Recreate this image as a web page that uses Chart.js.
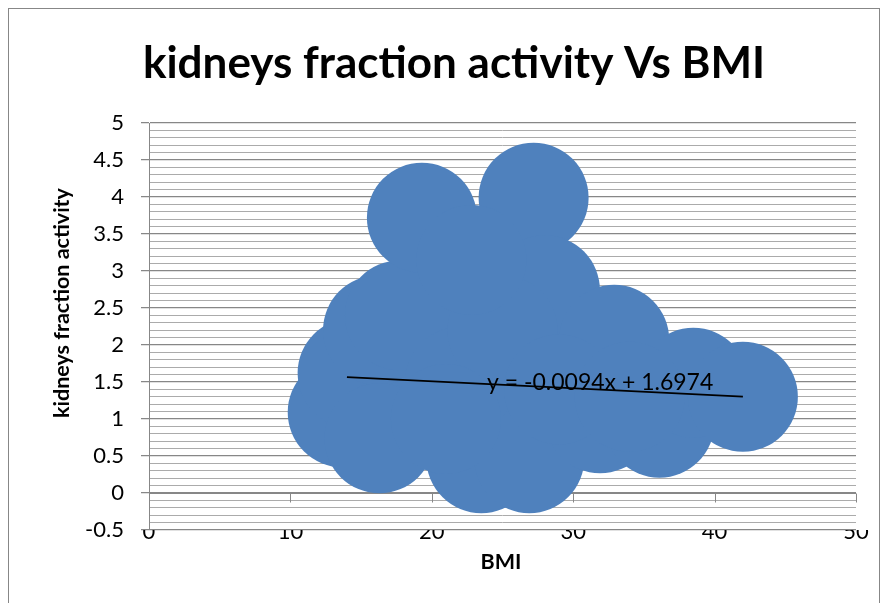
<!DOCTYPE html>
<html>
<head>
<meta charset="utf-8">
<script src="https://cdn.jsdelivr.net/npm/chart.js@4.4.0/dist/chart.umd.min.js"></script>
<style>
  html, body { margin: 0; padding: 0; background: #fff; }
</style>
</head>
<body>
<canvas id="myChart" width="882" height="603"></canvas>
<script>
// values (big bubbles overlap into one cloud)
const bmi      = [13.7, 14.4, 16.2, 17.75, 19.3, 16.3, 23.5, 26.9, 27.2, 28.0, 32.9, 31.9, 36.1, 38.5, 42.0, 22.0, 25.0, 21.0, 22.8, 29.0, 34.0];
const activity = [1.09, 1.62, 2.2, 2.4, 3.72, 0.74, 0.47, 0.47, 3.99, 2.74, 2.07, 1.01, 0.95, 1.49, 1.30, 1.5, 2.2, 1.0, 3.15, 1.4, 1.3];

// linear trendline, ends at min / max BMI
const trendX = [14, 42];
const trendY = [1.566, 1.303];
const trendText = 'y = -0.0094x + 1.6974';

const xTickLabels = ['0', '10', '20', '30', '40', '50'];
const yTickLabels = ['-0.5', '0', '0.5', '1', '1.5', '2', '2.5', '3', '3.5', '4', '4.5', '5'];

const chartTitle = 'kidneys fraction activity Vs BMI';
const xTitle = 'BMI';
const yTitle = 'kidneys fraction activity';

const FONT = 'Lato';
const GRID = '#878787';

const decor = {
  id: 'decor',
  beforeDraw(chart) {
    const c = chart.ctx;
    c.save();
    c.fillStyle = '#fff';
    c.fillRect(0, 0, chart.width, chart.height);
    c.strokeStyle = GRID;
    c.lineWidth = 1;
    c.strokeRect(8.5, 8.5, 871, 640);
    c.restore();
  },
  beforeDatasetsDraw(chart) {
    // x axis crosses at y = 0
    const c = chart.ctx, xs = chart.scales.x, ys = chart.scales.y;
    const y0 = Math.round(ys.getPixelForValue(0)) + 0.5;
    c.save();
    c.strokeStyle = GRID;
    c.lineWidth = 1;
    c.beginPath();
    c.moveTo(xs.left, y0);
    c.lineTo(xs.right, y0);
    xs.ticks.forEach(t => {
      const px = Math.round(xs.getPixelForValue(t.value)) + 0.5;
      c.moveTo(px, y0);
      c.lineTo(px, y0 + 9);
    });
    c.stroke();
    c.restore();
  },
  afterDatasetsDraw(chart) {
    const c = chart.ctx, xs = chart.scales.x, ys = chart.scales.y;
    c.save();
    c.fillStyle = '#000';
    c.font = '23px ' + FONT;
    c.textBaseline = 'alphabetic';
    c.textAlign = 'left';
    c.fillText(trendText, xs.getPixelForValue(23.9), ys.getPixelForValue(1.39));
    c.restore();
  },
  afterDraw(chart) {
    const c = chart.ctx;
    c.save();
    c.fillStyle = '#000';
    c.textAlign = 'center';
    c.font = 'bold 44px ' + FONT;
    c.textBaseline = 'alphabetic';
    c.fillText(chartTitle, 454, 78);
    c.font = 'bold 21.5px ' + FONT;
    c.textBaseline = 'middle';
    c.fillText(xTitle, 501, 562);
    c.translate(62, 303);
    c.rotate(-Math.PI / 2);
    c.fillText(yTitle, 0, 0);
    c.restore();
  }
};

const ctx = document.getElementById('myChart').getContext('2d');

new Chart(ctx, {
  type: 'scatter',
  data: {
    datasets: [
      {
        data: trendX.map((x, i) => ({ x: x, y: trendY[i] })),
        showLine: true,
        borderColor: '#000',
        borderWidth: 1.75,
        pointRadius: 0,
        fill: false,
        order: 0
      },
      {
        data: bmi.map((x, i) => ({ x: x, y: activity[i] })),
        backgroundColor: '#4F81BD',
        borderWidth: 0,
        pointRadius: 55,
        pointHoverRadius: 55,
        clip: false,
        order: 1
      }
    ]
  },
  options: {
    responsive: false,
    animation: false,
    events: [],
    layout: { autoPadding: false, padding: { top: 123, left: 0, right: 26, bottom: 0 } },
    plugins: {
      legend: { display: false },
      title: { display: false },
      tooltip: { enabled: false }
    },
    scales: {
      x: {
        type: 'linear',
        position: 'bottom',
        min: 0,
        max: 50,
        afterFit: s => { s.height = 73; s.paddingLeft = 0; s.paddingRight = 0; },
        ticks: {
          stepSize: 10,
          padding: -11,
          maxRotation: 0,
          color: '#000',
          font: { family: FONT, size: 22 },
          callback: (v, i) => xTickLabels[i]
        },
        grid: { display: false, drawTicks: false },
        border: { display: false }
      },
      y: {
        type: 'linear',
        position: 'left',
        min: -0.5,
        max: 5,
        afterFit: s => { s.width = 149; },
        ticks: {
          stepSize: 0.5,
          maxTicksLimit: 20,
          autoSkip: false,
          padding: 17,
          color: '#000',
          font: { family: FONT, size: 22 },
          callback: (v, i) => yTickLabels[i]
        },
        grid: { color: GRID, lineWidth: 1.25, tickLength: 8 },
        border: { display: true, color: GRID }
      },
      yMinor: {
        type: 'linear',
        position: 'left',
        min: -0.5,
        max: 5,
        afterFit: s => { s.width = 0; },
        ticks: { display: false, stepSize: 0.1, maxTicksLimit: 100, autoSkip: false },
        grid: {
          drawTicks: false,
          color: c => {
            const v = c.tick ? c.tick.value * 2 : 0;
            return Math.abs(v - Math.round(v)) < 1e-6 ? 'rgba(0,0,0,0)' : '#ababab';
          }
        },
        border: { display: false }
      }
    }
  },
  plugins: [decor]
});
</script>
</body>
</html>
